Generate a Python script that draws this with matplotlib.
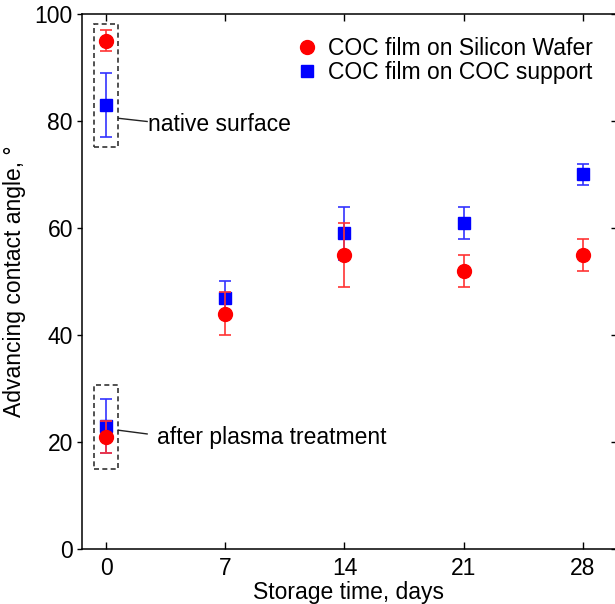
import matplotlib
matplotlib.use("Agg")
import matplotlib.pyplot as plt
from matplotlib.patches import Rectangle

# data
days = [0, 0, 7, 14, 21, 28]  # first 0 = native surface, second 0 = after plasma
wafer_angle = [95, 21, 44, 55, 52, 55]
wafer_err = [2, 3, 4, 6, 3, 3]
coc_angle = [83, 23, 47, 59, 61, 70]
coc_err = [6, 5, 3, 5, 3, 2]
x_ticks = [0, 7, 14, 21, 28]
y_ticks = [0, 20, 40, 60, 80, 100]

plt.rcParams["font.family"] = ["Liberation Sans", "DejaVu Sans"]
plt.rcParams["font.size"] = 16.5

fig = plt.figure(figsize=(6.15, 6.04), dpi=100)
ax = fig.add_axes([0.1333, 0.0911, 0.8680, 0.8858])

# blue first so red sits on top (as in the reference)
ax.errorbar(days, coc_angle, yerr=coc_err, fmt="none", ecolor="#3333ff",
            elinewidth=1.2, capsize=4.5, capthick=1.2, zorder=2)
ax.plot(days, coc_angle, ls="none", marker="s", ms=9, color="#0000ff",
        mec="#0000ff", label="COC film on COC support", zorder=3)
ax.errorbar(days, wafer_angle, yerr=wafer_err, fmt="none", ecolor="#ff3333",
            elinewidth=1.2, capsize=4.5, capthick=1.2, zorder=4)
ax.plot(days, wafer_angle, ls="none", marker="o", ms=10, color="#ff0000",
        mec="#ff0000", label="COC film on Silicon Wafer", zorder=5)

# dashed boxes around the day-0 points
for y0, y1 in [(75.2, 98.1), (14.9, 30.6)]:
    ax.add_patch(Rectangle((-0.75, y0), 1.46, y1 - y0, fill=False,
                           ls=(0, (3, 2)), lw=1.2, ec="#333333", zorder=1))

ax.plot([0.71, 2.4], [80.5, 79.9], color="#222222", lw=1.0)
ax.text(2.45, 79.4, "native surface", va="center", ha="left")
ax.plot([0.71, 2.4], [22.2, 21.5], color="#222222", lw=1.0)
ax.text(3.0, 20.8, "after plasma treatment", va="center", ha="left")

ax.set_xlim(-1.43, 29.95)
ax.set_ylim(0, 100)
ax.set_xticks(x_ticks)
ax.set_yticks(y_ticks)
ax.tick_params(axis="x", direction="in", top=True, length=5, width=1.0, pad=6)
ax.tick_params(axis="y", direction="out", length=3.5, width=1.0, pad=3)
ax.tick_params(axis="y", which="both", right=True)
for lbl in ax.get_yticklines()[1::2]:
    lbl.set_marker(0)  # right side ticks pointing inward
for s in ax.spines.values():
    s.set_linewidth(1.1)

ax.set_xlabel("Storage time, days", labelpad=0.5)
ax.set_ylabel("Advancing contact angle, °", labelpad=6)

h, l = ax.get_legend_handles_labels()
ax.legend(h[::-1], l[::-1], loc="upper right", bbox_to_anchor=(0.982, 0.982),
          frameon=False, handlelength=0.8, handletextpad=0.5,
          labelspacing=0.05, borderaxespad=0.2)

fig.savefig("out.png", dpi=100)
